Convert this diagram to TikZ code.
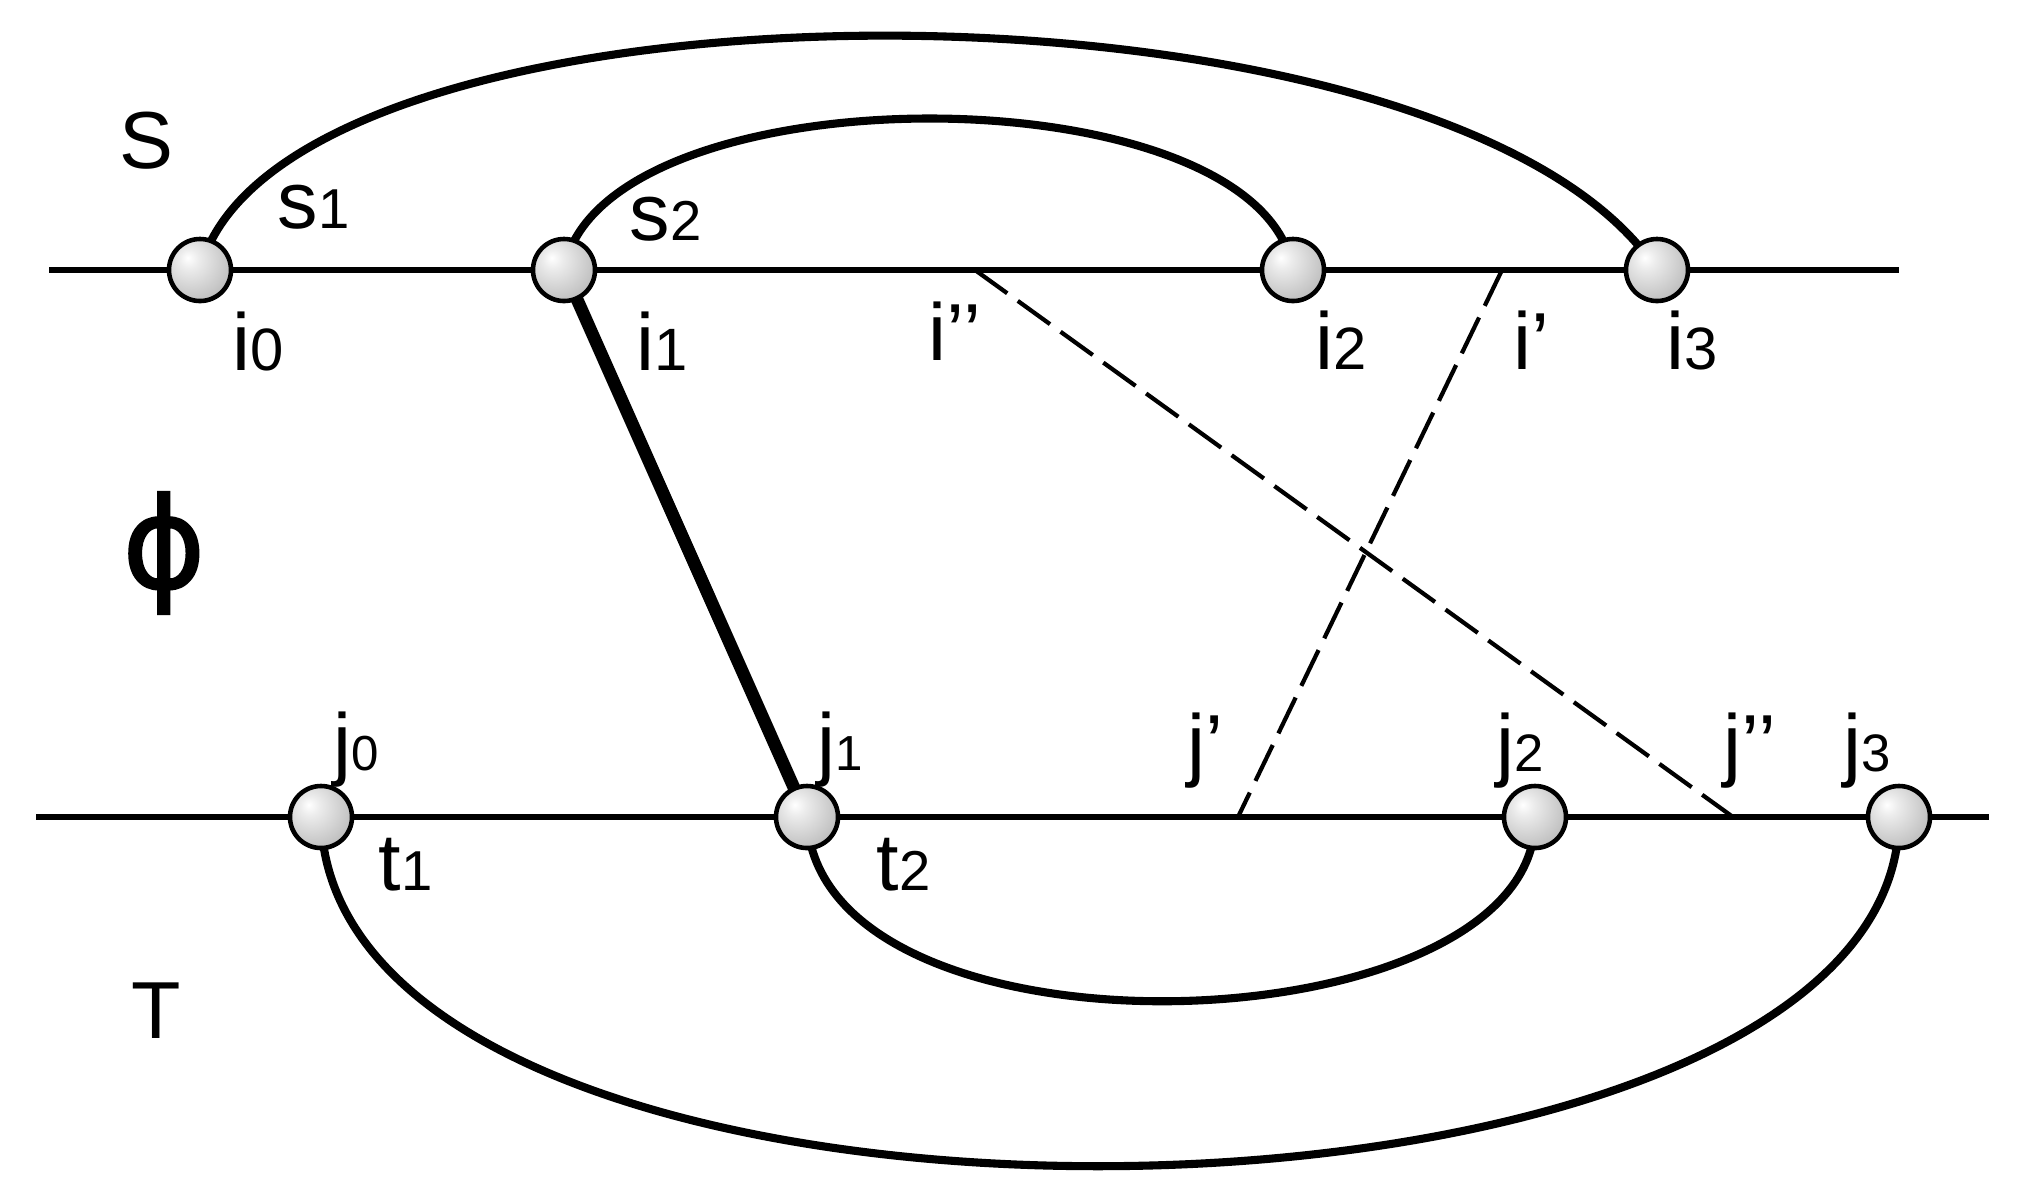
\documentclass[tikz,border=0pt]{standalone}
\usepackage{fontspec}
\setmainfont{Liberation Sans}
\newfontfamily\greekfont[FakeBold=1.5]{DejaVu Sans}
\usetikzlibrary{backgrounds}

\pgfdeclareradialshading{bead}{\pgfpoint{-10bp}{10bp}}{%
    color(0bp)=(white);
    color(8bp)=(gray!15);
    color(35bp)=(gray!55);
    color(60bp)=(gray!85);
    color(80bp)=(gray!90)}

\newcommand{\dg}[2][16]{{\fontsize{#1}{#1}\selectfont #2}}

\begin{document}
\begin{tikzpicture}[x=0.01cm, y=-0.01cm,
    Vertex/.style={circle, draw, line width=1.3pt, shading=bead, minimum size=0.62cm, inner sep=0pt},
    Lbl/.style={font=\fontsize{23}{23}\selectfont, inner sep=0pt, anchor=base west},
    Axis/.style={line width=1.9pt},
    Arc/.style={line width=2.3pt},
    Map/.style={line width=3.6pt},
    Cut/.style={line width=1.2pt, dash pattern=on 11.3pt off 3.7pt}]
    \useasboundingbox (0,0) rectangle (2033,1190);

    \node[Vertex] (i0) at (200,270) {};
    \node[Vertex] (i1) at (564,270) {};
    \node[Vertex] (i2) at (1293,270) {};
    \node[Vertex] (i3) at (1657,270) {};

    \node[Vertex] (j0) at (321,817) {};
    \node[Vertex] (j1) at (807,817) {};
    \node[Vertex] (j2) at (1535,817) {};
    \node[Vertex] (j3) at (1899,817) {};

    \coordinate (sL) at (49,270);
    \coordinate (sR) at (1899,270);
    \coordinate (tL) at (36,817);
    \coordinate (tR) at (1989,817);
    \coordinate (ipp) at (975,270);
    \coordinate (ip) at (1502,270);
    \coordinate (jp) at (1238,817);
    \coordinate (jpp) at (1733,817);

    \begin{scope}[on background layer]
        \draw[Axis] (sL) -- (sR);
        \draw[Axis] (tL) -- (tR);
        \draw[Arc] (i0.center) .. controls (280,-40) and (1450,-45) .. (i3.center);
        \draw[Arc] (i1.center) .. controls (600,68) and (1260,68) .. (i2.center);
        \draw[Arc] (j1.center) .. controls (815,1075) and (1540,1050) .. (j2.center);
        \draw[Arc] (j0.center) .. controls (330,1295) and (1900,1270) .. (j3.center);
        \draw[Map] (i1.center) -- (j1.center);
        \draw[Cut] (ipp) -- (jpp);
        \draw[Cut] (ip) -- (jp);
    \end{scope}

    \node[Lbl] (S) at (119,168) {S};
    \node[Lbl] (T) at (131,1038) {T};
    \node[font=\greekfont\fontsize{36}{36}\selectfont, inner sep=0pt] (phi) at (164,553) {ϕ};

    \node[Lbl] (s1) at (277,228) {s\dg{1}};
    \node[Lbl] (s2) at (629,240) {s\dg{2}};
    \node[Lbl] (t1) at (378,890) {t\dg{1}};
    \node[Lbl] (t2) at (876,890) {t\dg{2}};

    \node[Lbl] (li0) at (232,370) {i\dg[17]{0}};
    \node[Lbl] (li1) at (636,370) {i\dg[17]{1}};
    \node[Lbl] (lipp) at (928,360) {i’’};
    \node[Lbl] (li2) at (1315,369) {i\dg[17]{2}};
    \node[Lbl] (lip) at (1513,369) {i’};
    \node[Lbl] (li3) at (1666,369) {i\dg[17]{3}};

    \node[Lbl] (lj0) at (333,770) {j\dg[14]{0}};
    \node[Lbl] (lj1) at (817,770) {j\dg[14]{1}};
    \node[Lbl] (ljp) at (1187,771) {j’};
    \node[Lbl] (lj2) at (1496,771) {j\dg[15]{2}};
    \node[Lbl] (ljpp) at (1723,771) {j’’};
    \node[Lbl] (lj3) at (1843,771) {j\dg[15]{3}};
\end{tikzpicture}
\end{document}
